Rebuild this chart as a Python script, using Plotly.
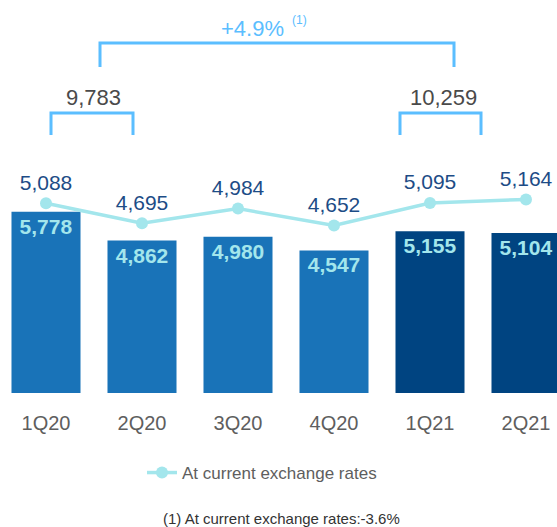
import plotly.graph_objects as go

# ---- data ----
quarters = ["1Q20", "2Q20", "3Q20", "4Q20", "1Q21", "2Q21"]
bar_values = [5778, 4862, 4980, 4547, 5155, 5104]          # constant exchange rates
line_values = [5088, 4695, 4984, 4652, 5095, 5164]         # at current exchange rates
sum_2020_h1 = 9783
sum_2021_h1 = 10259
growth_label = "+4.9%"
footnote = "(1) At current exchange rates:-3.6%"
legend_name = "At current exchange rates"

# ---- styles ----
C_2020 = "#1973B8"
C_2021 = "#004481"
C_LINE = "#A3E6EC"
C_LINE_TXT = "#1D4C86"
C_BRACKET = "#5BBEFF"
C_GREY = "#4A4A4A"
FONT = "Liberation Sans, Arial, sans-serif"

W, H = 557, 527
TOP, BOTTOM = 150, 393
PH = BOTTOM - TOP


def py(p):
    """pixel y -> paper y"""
    return (BOTTOM - p) / PH


def px(p):
    return p / W


bar_colors = [C_2020 if q.endswith("20") else C_2021 for q in quarters]

fig = go.Figure()
fig.add_trace(go.Bar(
    x=quarters, y=bar_values,
    marker=dict(color=bar_colors, line=dict(width=0)),
    text=[f"{v:,}" for v in bar_values],
    textposition="inside", insidetextanchor="end",
    textfont=dict(family=FONT, size=21, color=C_LINE, weight="bold"),
    textangle=0,
    showlegend=False, hoverinfo="skip",
))
fig.add_trace(go.Scatter(
    x=quarters, y=line_values, yaxis="y2",
    mode="lines+markers+text",
    line=dict(color=C_LINE, width=3.5),
    marker=dict(color=C_LINE, size=12),
    text=[f"{v:,}" for v in line_values],
    textposition="top center",
    textfont=dict(family=FONT, size=21, color=C_LINE_TXT),
    name=legend_name,
    cliponaxis=True,
))

shapes = []


def bracket(x0, x1, ytop, ybot):
    return dict(type="path", xref="paper", yref="paper",
                path=f"M {px(x0)},{py(ybot)} L {px(x0)},{py(ytop)} L {px(x1)},{py(ytop)} L {px(x1)},{py(ybot)}",
                line=dict(color=C_BRACKET, width=3))


shapes.append(bracket(100, 454, 43, 67))
shapes.append(bracket(51, 133, 113, 135))
shapes.append(bracket(400, 481, 113, 135))

annotations = [
    dict(text=growth_label, x=px(252), y=py(28), xref="paper", yref="paper",
         showarrow=False, font=dict(family=FONT, size=22, color=C_BRACKET),
         xanchor="center", yanchor="middle"),
    dict(text="(1)", x=px(299), y=py(20), xref="paper", yref="paper",
         showarrow=False, font=dict(family=FONT, size=12, color=C_BRACKET),
         xanchor="center", yanchor="middle"),
    dict(text=f"{sum_2020_h1:,}", x=px(93), y=py(97), xref="paper", yref="paper",
         showarrow=False, font=dict(family=FONT, size=22, color=C_GREY),
         xanchor="center", yanchor="middle"),
    dict(text=f"{sum_2021_h1:,}", x=px(443), y=py(97), xref="paper", yref="paper",
         showarrow=False, font=dict(family=FONT, size=22, color=C_GREY),
         xanchor="center", yanchor="middle"),
    dict(text=footnote, x=px(281), y=py(518), xref="paper", yref="paper",
         showarrow=False, font=dict(family=FONT, size=15, color="#333333"),
         xanchor="center", yanchor="middle"),
]

fig.update_layout(
    width=W, height=H,
    margin=dict(l=0, r=0, t=TOP, b=H - BOTTOM, pad=0),
    paper_bgcolor="white", plot_bgcolor="white",
    bargap=0.281,
    xaxis=dict(type="category", range=[-0.4792, 5.3229], showgrid=False,
               showline=False, zeroline=False, ticks="",
               tickfont=dict(family=FONT, size=20, color="#5E5E5E"),
               ticklabelstandoff=16),
    yaxis=dict(range=[0, 7750], visible=False, showgrid=False),
    yaxis2=dict(range=[1361, 6135], overlaying="y", visible=False, showgrid=False),
    showlegend=True,
    legend=dict(orientation="h", x=px(142), y=py(473), xanchor="left", yanchor="middle",
                font=dict(family=FONT, size=17, color="#5E5E5E"),
                bgcolor="rgba(0,0,0,0)"),
    shapes=shapes,
    annotations=annotations,
)

fig.write_html(
    "out.html",
    config={"displayModeBar": False},
    post_script="document.body.style.margin='0';document.body.style.overflow='hidden';",
)
